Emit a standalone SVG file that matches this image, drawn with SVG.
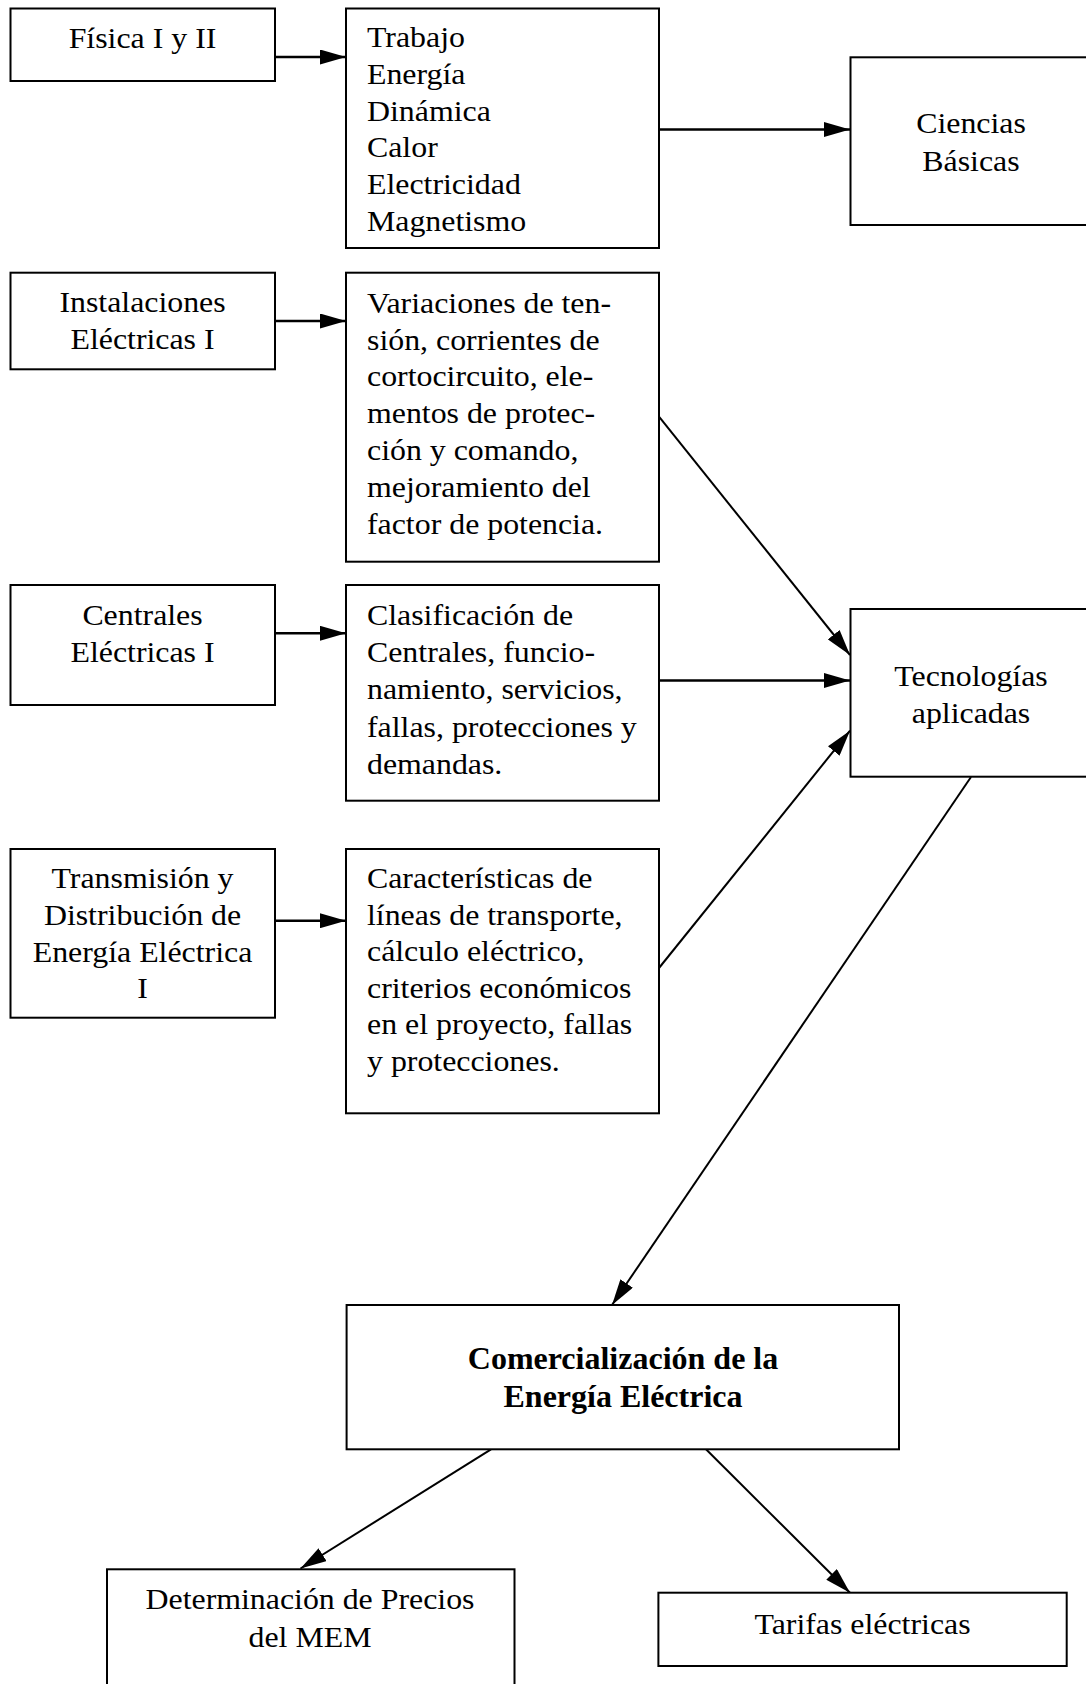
<svg xmlns="http://www.w3.org/2000/svg" width="1086" height="1684" viewBox="0 0 1086 1684">
<style>
.box{fill:#fff;stroke:#000;stroke-width:2}
.t{font-family:"Liberation Serif","Times New Roman",serif;font-size:29.5px;fill:#000}
.c{text-anchor:middle}
.b{font-family:"Liberation Serif","Times New Roman",serif;font-size:32px;font-weight:bold;fill:#000;text-anchor:middle}
.ln{stroke:#000;stroke-width:2;fill:none;marker-end:url(#ah)}
.lh{stroke:#000;stroke-width:2.5;fill:none;marker-end:url(#ah)}
</style>
<defs>
<marker id="ah" markerUnits="userSpaceOnUse" markerWidth="26" markerHeight="15" refX="26" refY="7.5" orient="auto">
<path d="M0,0 L26,7.5 L0,15 Z" fill="#000"/>
</marker>
</defs>
<rect width="1086" height="1684" fill="#fff"/>

<g id="connectors">
<line class="lh" x1="275" y1="57" x2="346" y2="57"/>
<line class="lh" x1="659" y1="129.5" x2="850" y2="129.5"/>
<line class="lh" x1="275" y1="321" x2="346" y2="321"/>
<line class="ln" x1="659" y1="416.7" x2="850" y2="655"/>
<line class="lh" x1="275" y1="633.3" x2="346" y2="633.3"/>
<line class="lh" x1="659" y1="680.5" x2="850" y2="680.5"/>
<line class="lh" x1="275" y1="920.7" x2="346" y2="920.7"/>
<line class="ln" x1="659" y1="968" x2="850" y2="730.7"/>
<line class="ln" x1="971" y1="777" x2="612" y2="1305"/>
<line class="ln" x1="491" y1="1449.3" x2="300.5" y2="1568.5"/>
<line class="ln" x1="706" y1="1449.3" x2="850" y2="1592.7"/>
</g>

<g id="fisica">
<rect class="box" x="10.5" y="8.5" width="264.5" height="72.5"/>
<g transform="translate(142.5 0) scale(1.08 1)"><text class="t c" x="0" y="48">Física I y II</text></g>
</g>

<g id="trabajo">
<rect class="box" x="346" y="8.5" width="313" height="239.5"/>
<g transform="translate(367 0) scale(1.08 1)">
<text class="t" x="0" y="47.3">Trabajo</text>
<text class="t" x="0" y="84">Energía</text>
<text class="t" x="0" y="120.7">Dinámica</text>
<text class="t" x="0" y="157.4">Calor</text>
<text class="t" x="0" y="194.1">Electricidad</text>
<text class="t" x="0" y="230.8">Magnetismo</text>
</g>
</g>

<g id="ciencias">
<rect class="box" x="850.5" y="57.3" width="260" height="167.7"/>
<g transform="translate(971 0) scale(1.08 1)">
<text class="t c" x="0" y="132.7">Ciencias</text>
<text class="t c" x="0" y="170.7">Básicas</text>
</g>
</g>

<g id="instalaciones">
<rect class="box" x="10.5" y="272.7" width="264.5" height="96.6"/>
<g transform="translate(142.5 0) scale(1.08 1)">
<text class="t c" x="0" y="312">Instalaciones</text>
<text class="t c" x="0" y="349">Eléctricas I</text>
</g>
</g>

<g id="variaciones">
<rect class="box" x="346" y="272.7" width="313" height="289"/>
<g transform="translate(367 0) scale(1.08 1)">
<text class="t" x="0" y="312.7">Variaciones de ten-</text>
<text class="t" x="0" y="349.6">sión, corrientes de</text>
<text class="t" x="0" y="386.5">cortocircuito, ele-</text>
<text class="t" x="0" y="423.4">mentos de protec-</text>
<text class="t" x="0" y="460.3">ción y comando,</text>
<text class="t" x="0" y="497.2">mejoramiento del</text>
<text class="t" x="0" y="534.1">factor de potencia.</text>
</g>
</g>

<g id="centrales">
<rect class="box" x="10.5" y="585" width="264.5" height="120"/>
<g transform="translate(142.5 0) scale(1.08 1)">
<text class="t c" x="0" y="625">Centrales</text>
<text class="t c" x="0" y="662">Eléctricas I</text>
</g>
</g>

<g id="clasificacion">
<rect class="box" x="346" y="585" width="313" height="215.7"/>
<g transform="translate(367 0) scale(1.08 1)">
<text class="t" x="0" y="625">Clasificación de</text>
<text class="t" x="0" y="662.2">Centrales, funcio-</text>
<text class="t" x="0" y="699.4">namiento, servicios,</text>
<text class="t" x="0" y="736.6">fallas, protecciones y</text>
<text class="t" x="0" y="773.8">demandas.</text>
</g>
</g>

<g id="tecnologias">
<rect class="box" x="850.5" y="609" width="260" height="167.7"/>
<g transform="translate(971 0) scale(1.08 1)">
<text class="t c" x="0" y="686">Tecnologías</text>
<text class="t c" x="0" y="722.7">aplicadas</text>
</g>
</g>

<g id="transmision">
<rect class="box" x="10.5" y="849" width="264.5" height="168.7"/>
<g transform="translate(142.5 0) scale(1.08 1)">
<text class="t c" x="0" y="888.3">Transmisión y</text>
<text class="t c" x="0" y="925">Distribución de</text>
<text class="t c" x="0" y="961.7">Energía Eléctrica</text>
<text class="t c" x="0" y="998.4">I</text>
</g>
</g>

<g id="caracteristicas">
<rect class="box" x="346" y="849" width="313" height="264.3"/>
<g transform="translate(367 0) scale(1.08 1)">
<text class="t" x="0" y="888.3">Características de</text>
<text class="t" x="0" y="924.8">líneas de transporte,</text>
<text class="t" x="0" y="961.3">cálculo eléctrico,</text>
<text class="t" x="0" y="997.8">criterios económicos</text>
<text class="t" x="0" y="1034.3">en el proyecto, fallas</text>
<text class="t" x="0" y="1070.8">y protecciones.</text>
</g>
</g>

<g id="comercializacion">
<rect class="box" x="346.6" y="1305" width="552.4" height="144.3"/>
<text class="b" x="623" y="1369">Comercialización de la</text>
<text class="b" x="623" y="1406.5">Energía Eléctrica</text>
</g>

<g id="determinacion">
<rect class="box" x="107" y="1569.3" width="407.5" height="130"/>
<g transform="translate(310 0) scale(1.08 1)">
<text class="t c" x="0" y="1609">Determinación de Precios</text>
<text class="t c" x="0" y="1647">del MEM</text>
</g>
</g>

<g id="tarifas">
<rect class="box" x="658.4" y="1592.7" width="408.3" height="73.3"/>
<g transform="translate(862.5 0) scale(1.08 1)"><text class="t c" x="0" y="1634">Tarifas eléctricas</text></g>
</g>
</svg>
